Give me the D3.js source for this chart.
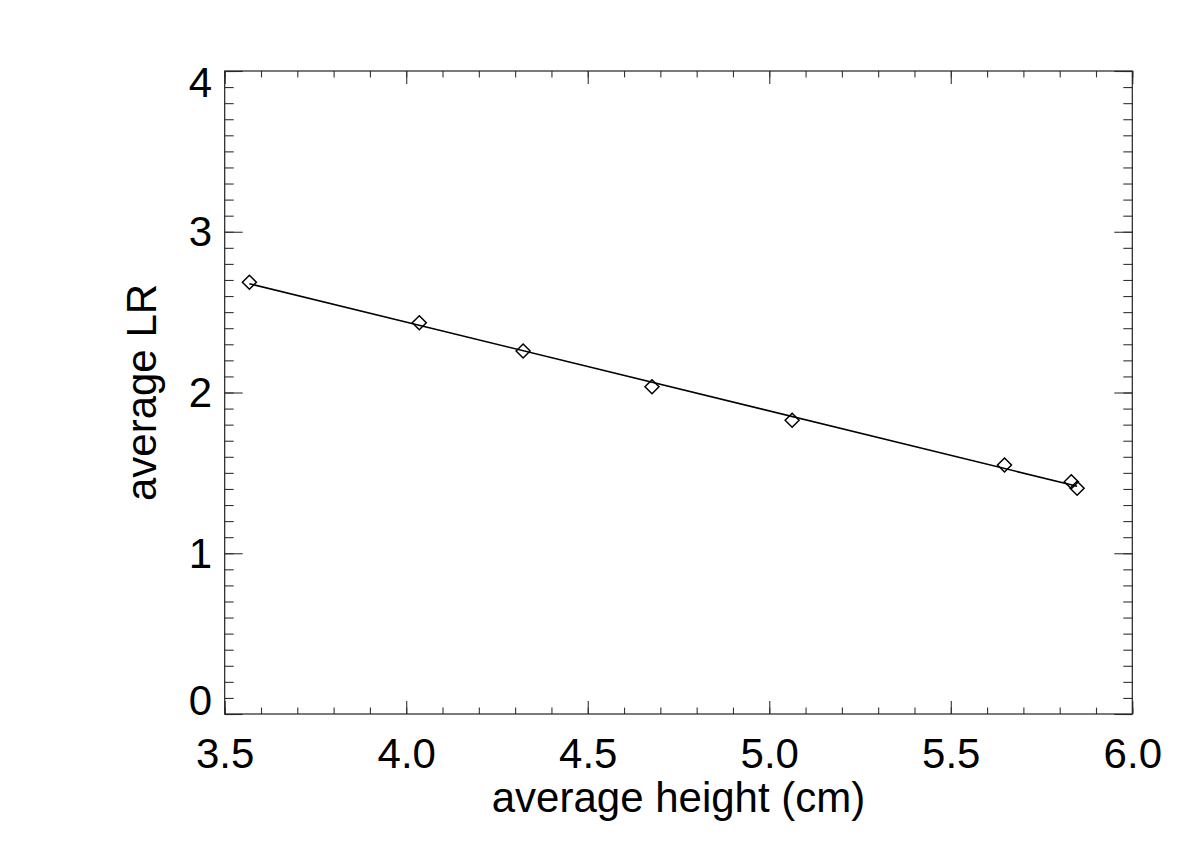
<!DOCTYPE html>
<html>
<head>
<meta charset="utf-8">
<script src="https://cdn.jsdelivr.net/npm/d3@7"></script>
<style>
  body { margin: 0; background: #fff; }
  svg { display: block; }
  text { font-family: "Liberation Sans", Arial, Helvetica, sans-serif; fill: #000; }
</style>
</head>
<body>
<svg id="chart"></svg>
<script>
// data
var heights = [3.568, 4.036, 4.322, 4.677, 5.063, 5.648, 5.832, 5.848];
var avgLR   = [2.686, 2.434, 2.258, 2.036, 1.827, 1.549, 1.445, 1.404];
var xTickVals = [3.5, 4.0, 4.5, 5.0, 5.5, 6.0];
var yTickVals = [0, 1, 2, 3, 4];
var xLabel = "average height (cm)", yLabel = "average LR";

// basic settings
var svgWidth = 1200, svgHeight = 857;
var plotLeft = 224.7, plotRight = 1132.3, plotTop = 71, plotBottom = 714;
var fontSize = 42;

var svg = d3.select('#chart')
  .attr('width', svgWidth)
  .attr('height', svgHeight);

var x = d3.scaleLinear().domain([3.5, 6.0]).range([plotLeft, plotRight]);
var y = d3.scaleLinear().domain([0, 4]).range([plotBottom, plotTop]);

var xMinor = d3.range(35, 61).map(function(d) { return d / 10; });
var yMinor = d3.range(0, 41).map(function(d) { return d / 10; });

var xMajLen = 12.9, xMinLen = 6.4, yMajLen = 18, yMinLen = 9;

function styleAxis(g) {
  g.select('.domain').remove();
  g.selectAll('line').attr('stroke', '#333').attr('stroke-width', 1.1);
}

// minor ticks
svg.append('g').attr('transform', 'translate(0,' + plotBottom + ')')
  .call(d3.axisBottom(x).tickValues(xMinor).tickSize(-xMinLen).tickFormat(''))
  .call(styleAxis);
svg.append('g').attr('transform', 'translate(0,' + plotTop + ')')
  .call(d3.axisTop(x).tickValues(xMinor).tickSize(-xMinLen).tickFormat(''))
  .call(styleAxis);
svg.append('g').attr('transform', 'translate(' + plotLeft + ',0)')
  .call(d3.axisLeft(y).tickValues(yMinor).tickSize(-yMinLen).tickFormat(''))
  .call(styleAxis);
svg.append('g').attr('transform', 'translate(' + plotRight + ',0)')
  .call(d3.axisRight(y).tickValues(yMinor).tickSize(-yMinLen).tickFormat(''))
  .call(styleAxis);

// major ticks + labels
var xAxisEle = svg.append('g').attr('transform', 'translate(0,' + plotBottom + ')')
  .call(d3.axisBottom(x).tickValues(xTickVals).tickSize(-xMajLen).tickPadding(0)
    .tickFormat(d3.format('.1f')))
  .call(styleAxis);
xAxisEle.selectAll('text')
  .attr('y', 54).attr('dy', 0)
  .style('font-size', fontSize + 'px')
  .attr('font-family', null);

svg.append('g').attr('transform', 'translate(0,' + plotTop + ')')
  .call(d3.axisTop(x).tickValues(xTickVals).tickSize(-xMajLen).tickFormat(''))
  .call(styleAxis);

var yAxisEle = svg.append('g').attr('transform', 'translate(' + plotLeft + ',0)')
  .call(d3.axisLeft(y).tickValues(yTickVals).tickSize(-yMajLen).tickPadding(12.5)
    .tickFormat(d3.format('d')))
  .call(styleAxis);
yAxisEle.selectAll('text')
  .attr('dy', 0)
  .attr('y', function(d) {
    // IDL pulls the end labels inside the axis range
    if (d === 4) return 25;
    if (d === 0) return 0;
    return 14;
  })
  .style('font-size', fontSize + 'px')
  .attr('font-family', null);

svg.append('g').attr('transform', 'translate(' + plotRight + ',0)')
  .call(d3.axisRight(y).tickValues(yTickVals).tickSize(-yMajLen).tickFormat(''))
  .call(styleAxis);

// frame
svg.append('rect')
  .attr('x', plotLeft).attr('y', plotTop)
  .attr('width', plotRight - plotLeft).attr('height', plotBottom - plotTop)
  .attr('fill', 'none').attr('stroke', '#222').attr('stroke-width', 1.2);

// least squares fit through the points
var mx = d3.mean(heights), my = d3.mean(avgLR);
var sxy = d3.sum(heights, function(d, i) { return (d - mx) * (avgLR[i] - my); });
var sxx = d3.sum(heights, function(d) { return (d - mx) * (d - mx); });
var slope = sxy / sxx, icpt = my - slope * mx;
var xExt = d3.extent(heights);

svg.append('path')
  .datum(xExt)
  .attr('d', d3.line()
    .x(function(d) { return x(d); })
    .y(function(d) { return y(icpt + slope * d); }))
  .attr('fill', 'none').attr('stroke', '#000').attr('stroke-width', 1.6);

// diamonds
var pts = heights.map(function(d, i) { return [d, avgLR[i]]; });
svg.append('g').selectAll('path')
  .data(pts)
  .enter()
  .append('path')
  .attr('d', 'M0,-7L7,0L0,7L-7,0Z')
  .attr('transform', function(d) {
    return 'translate(' + x(d[0]) + ',' + y(d[1]) + ')';
  })
  .attr('fill', 'none').attr('stroke', '#000').attr('stroke-width', 1.5);

// axis titles
svg.append('text')
  .attr('x', (plotLeft + plotRight) / 2).attr('y', 812)
  .attr('text-anchor', 'middle')
  .style('font-size', fontSize + 'px')
  .text(xLabel);

svg.append('text')
  .attr('transform', 'translate(156,' + ((plotTop + plotBottom) / 2) + ') rotate(-90)')
  .attr('text-anchor', 'middle')
  .style('font-size', fontSize + 'px')
  .text(yLabel);
</script>
</body>
</html>
